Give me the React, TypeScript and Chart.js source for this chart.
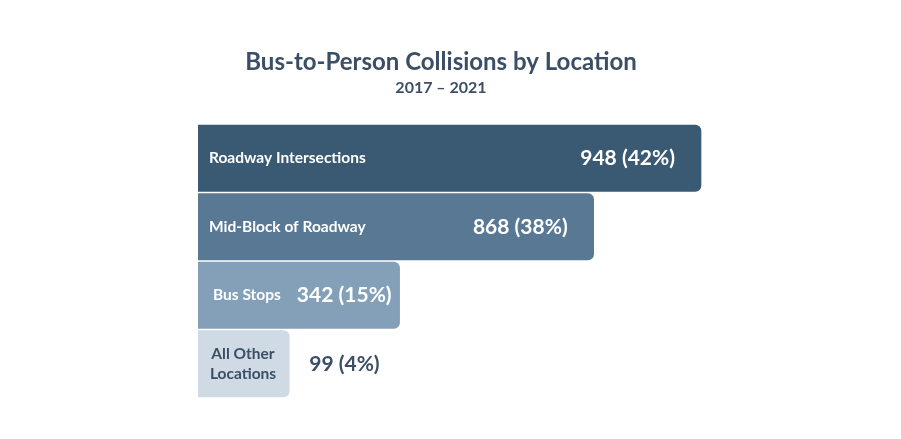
import { useEffect, useRef } from 'react';
import { Chart, registerables } from 'chart.js';

Chart.register(...registerables);

// data
const categories = ['Roadway Intersections', 'Mid-Block of Roadway', 'Bus Stops', 'All Other Locations'];
const collisions = [948, 868, 342, 99];
const shares = [42, 38, 15, 4];
// the bars are drawn as a stylised funnel, not to scale: lengths (longest = 100)
const barLengths = [100, 78.7, 40.2, 18.3];

const barColors = ['#3a5a74', '#587893', '#84a0b9', '#d0dae4'];
const darkText = '#3a4f66';
const FONT = 'Lato, "Open Sans", sans-serif';

const labelsPlugin = {
  id: 'funnelLabels',
  afterDraw(chart: Chart) {
    const { ctx } = chart;
    ctx.save();

    // title + subtitle
    ctx.fillStyle = darkText;
    ctx.textAlign = 'center';
    ctx.textBaseline = 'alphabetic';
    ctx.font = `bold 24px ${FONT}`;
    ctx.fillText('Bus-to-Person Collisions by Location', 441, 70);
    ctx.font = `bold 16px ${FONT}`;
    ctx.fillText('2017 – 2021', 441, 93);

    const meta = chart.getDatasetMeta(0);
    meta.data.forEach((bar: any, i: number) => {
      const { x, y, base } = bar.getProps(['x', 'y', 'base'], true);
      const last = i === categories.length - 1;
      const txtColor = last ? darkText : '#ffffff';

      // category label
      ctx.font = `bold 15.5px ${FONT}`;
      ctx.fillStyle = txtColor;
      ctx.textBaseline = 'middle';
      if (last) {
        const words = categories[i].split(' ');
        const l1 = words.slice(0, 2).join(' ');
        const l2 = words.slice(2).join(' ');
        ctx.textAlign = 'center';
        ctx.fillText(l1, base + 45, y - 10);
        ctx.fillText(l2, base + 45, y + 10);
      } else if (i === 2) {
        ctx.textAlign = 'left';
        ctx.fillText(categories[i], base + 15, y);
      } else {
        ctx.textAlign = 'left';
        ctx.fillText(categories[i], base + 11, y);
      }

      // value label
      const value = `${collisions[i]} (${shares[i]}%)`;
      ctx.font = `bold 21px ${FONT}`;
      if (last) {
        ctx.fillStyle = darkText;
        ctx.textAlign = 'left';
        ctx.fillText(value, x + 19, y);
      } else {
        ctx.fillStyle = '#ffffff';
        ctx.textAlign = 'right';
        const pad = i === 2 ? 9 : 27;
        ctx.fillText(value, x - pad, y);
      }
    });
    ctx.restore();
  },
};

export default function App() {
  const chartRef = useRef<HTMLCanvasElement>(null);

  useEffect(() => {
    document.body.style.margin = '0';
    if (!chartRef.current) return;

    const chart = new Chart(chartRef.current, {
      type: 'bar',
      data: {
        labels: categories,
        datasets: [{
          data: barLengths,
          backgroundColor: barColors,
          borderColor: 'rgba(255,255,255,0.55)',
          borderWidth: 1,
          borderRadius: 7,
          borderSkipped: 'start',
          barPercentage: 1,
          categoryPercentage: 1,
        }],
      },
      options: {
        indexAxis: 'y',
        responsive: true,
        maintainAspectRatio: false,
        animation: false,
        layout: { padding: { left: 198, right: 199, top: 124, bottom: 41 } },
        plugins: {
          legend: { display: false },
          tooltip: { enabled: false },
          title: { display: false },
        },
        scales: {
          x: { display: false, min: 0, max: 100 },
          y: { display: false },
        },
      },
      plugins: [labelsPlugin],
    });

    return () => chart.destroy();
  }, []);

  return (
    <div style={{ width: 901, height: 439, position: 'relative', background: '#fff' }}>
      <canvas ref={chartRef} />
    </div>
  );
}
